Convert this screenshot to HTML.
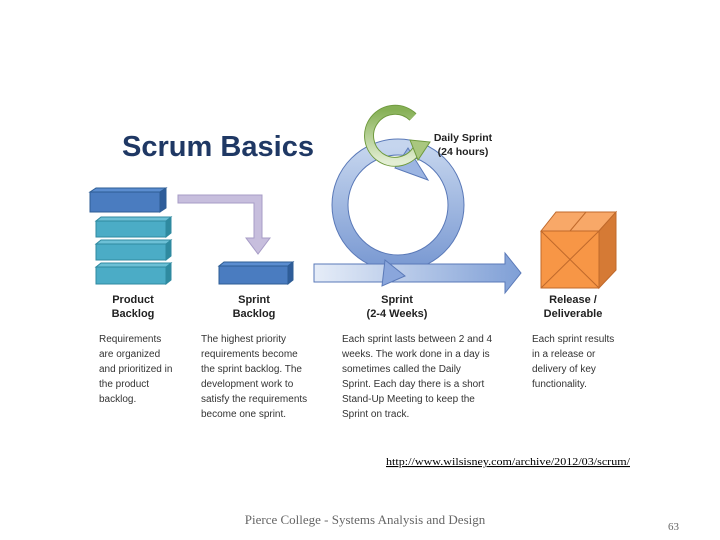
<!DOCTYPE html>
<html><head><meta charset="utf-8"><style>
body{margin:0;background:#fff;width:720px;height:540px;overflow:hidden}
svg{display:block}
.l{font-family:"Liberation Sans",sans-serif;font-weight:bold;font-size:11px;fill:#222;text-anchor:middle}
.b{font-family:"Liberation Sans",sans-serif;font-size:10px;fill:#333}
</style></head><body>
<svg width="720" height="540" viewBox="0 0 720 540">
<defs>
<linearGradient id="bl" x1="0" y1="0" x2="1" y2="0"><stop offset="0" stop-color="#e6edf8"/><stop offset="1" stop-color="#7f9fd6"/></linearGradient>
<linearGradient id="ci" x1="0" y1="0" x2="0" y2="1"><stop offset="0" stop-color="#c5d5ee"/><stop offset="1" stop-color="#7c9bd3"/></linearGradient>
<linearGradient id="gr" x1="0" y1="0" x2="0" y2="1"><stop offset="0" stop-color="#86b055"/><stop offset="1" stop-color="#e3eed4"/></linearGradient>
</defs>
<text x="122" y="156" font-family="Liberation Sans,sans-serif" font-size="29" font-weight="bold" fill="#1f3864" textLength="192" lengthAdjust="spacingAndGlyphs">Scrum Basics</text>
<g stroke="#2e5d94" stroke-width="1">
<polygon points="90,192 160,192 166,188 96,188" fill="#5b8dd0"/>
<rect x="90" y="192" width="70" height="20" fill="#4a7cc0"/>
<polygon points="160,192 166,188 166,208 160,212" fill="#2f5d9a"/>
</g>
<g stroke="#2f8aa0" stroke-width="1" fill="#4bacc6">
<rect x="96" y="221" width="70" height="16"/><polygon points="166,221 171,217 171,233 166,237" fill="#2f8aa0"/><polygon points="96,221 166,221 171,217 101,217" fill="#6cc0d6"/>
<rect x="96" y="244" width="70" height="16"/><polygon points="166,244 171,240 171,256 166,260" fill="#2f8aa0"/><polygon points="96,244 166,244 171,240 101,240" fill="#6cc0d6"/>
<rect x="96" y="267" width="70" height="17"/><polygon points="166,267 171,263 171,280 166,284" fill="#2f8aa0"/><polygon points="96,267 166,267 171,263 101,263" fill="#6cc0d6"/>
</g>
<g stroke="#2e5d94">
<rect x="219" y="266" width="69" height="18" fill="#4a7cc0"/>
<polygon points="219,266 288,266 293,262 224,262" fill="#5b8dd0"/>
<polygon points="288,266 293,262 293,280 288,284" fill="#2f5d9a"/>
</g>
<polygon points="178,195 262,195 262,238 270,238 258,254 246,238 254,238 254,203 178,203" fill="#c7bedd" stroke="#a79cc6"/>
<circle cx="398" cy="205" r="58" fill="none" stroke="#5a79b8" stroke-width="17"/>
<circle cx="398" cy="205" r="58" fill="none" stroke="url(#ci)" stroke-width="15"/>
<polygon points="395,168 408,148 428,180" fill="#9cb5e2" stroke="#5a79b8"/>
<polygon points="314,264 505,264 505,253 521,273 505,293 505,282 314,282" fill="url(#bl)" stroke="#5a79b8"/>
<polygon points="385,260 405,276 382,286" fill="#8aa6dc" stroke="#5a79b8"/>
<path d="M418,148 A26,26 0 1 1 413,117" fill="none" stroke="#6f9a3e" stroke-width="10"/>
<path d="M418,148 A26,26 0 1 1 413,117" fill="none" stroke="url(#gr)" stroke-width="8"/>
<polygon points="410,140 430,142 418,160" fill="#a9c77f" stroke="#6f9a3e"/>
<text x="463" y="141" class="l" style="font-size:10.5px">Daily Sprint</text>
<text x="463" y="155" class="l" style="font-size:10.5px">(24 hours)</text>
<g stroke="#c0692b">
<polygon points="541,231 556,212 616,212 599,231" fill="#f8a868"/>
<polygon points="599,231 616,212 616,270 599,288" fill="#d57a35"/>
<rect x="541" y="231" width="58" height="57" fill="#f79646"/>
<line x1="541" y1="231" x2="599" y2="288"/><line x1="599" y1="231" x2="541" y2="288"/>
<line x1="570" y1="231" x2="586" y2="212"/>
</g>
<text x="133" y="303" class="l">Product</text><text x="133" y="317" class="l">Backlog</text>
<text x="254" y="303" class="l">Sprint</text><text x="254" y="317" class="l">Backlog</text>
<text x="397" y="303" class="l">Sprint</text><text x="397" y="317" class="l">(2-4 Weeks)</text>
<text x="573" y="303" class="l">Release /</text><text x="573" y="317" class="l">Deliverable</text>
<g class="b">
<text x="99" y="342">Requirements</text><text x="99" y="357">are organized</text><text x="99" y="372">and prioritized in</text><text x="99" y="387">the product</text><text x="99" y="402">backlog.</text>
<text x="201" y="342">The highest priority</text><text x="201" y="357">requirements become</text><text x="201" y="372">the sprint backlog. The</text><text x="201" y="387">development work to</text><text x="201" y="402">satisfy the requirements</text><text x="201" y="417">become one sprint.</text>
<text x="342" y="342">Each sprint lasts between 2 and 4</text><text x="342" y="357">weeks. The work done in a day is</text><text x="342" y="372">sometimes called the Daily</text><text x="342" y="387">Sprint. Each day there is a short</text><text x="342" y="402">Stand-Up Meeting to keep the</text><text x="342" y="417">Sprint on track.</text>
<text x="532" y="342">Each sprint results</text><text x="532" y="357">in a release or</text><text x="532" y="372">delivery of key</text><text x="532" y="387">functionality.</text>
</g>
<text x="386" y="465" font-family="Liberation Serif,serif" font-size="11" fill="#000" text-decoration="underline" textLength="244" lengthAdjust="spacingAndGlyphs">http://www.wilsisney.com/archive/2012/03/scrum/</text>
<text x="365" y="524" text-anchor="middle" font-family="Liberation Serif,serif" font-size="13" fill="#666">Pierce College - Systems Analysis and Design</text>
<text x="668" y="530" font-family="Liberation Serif,serif" font-size="11" fill="#666">63</text>
</svg>
</body></html>
